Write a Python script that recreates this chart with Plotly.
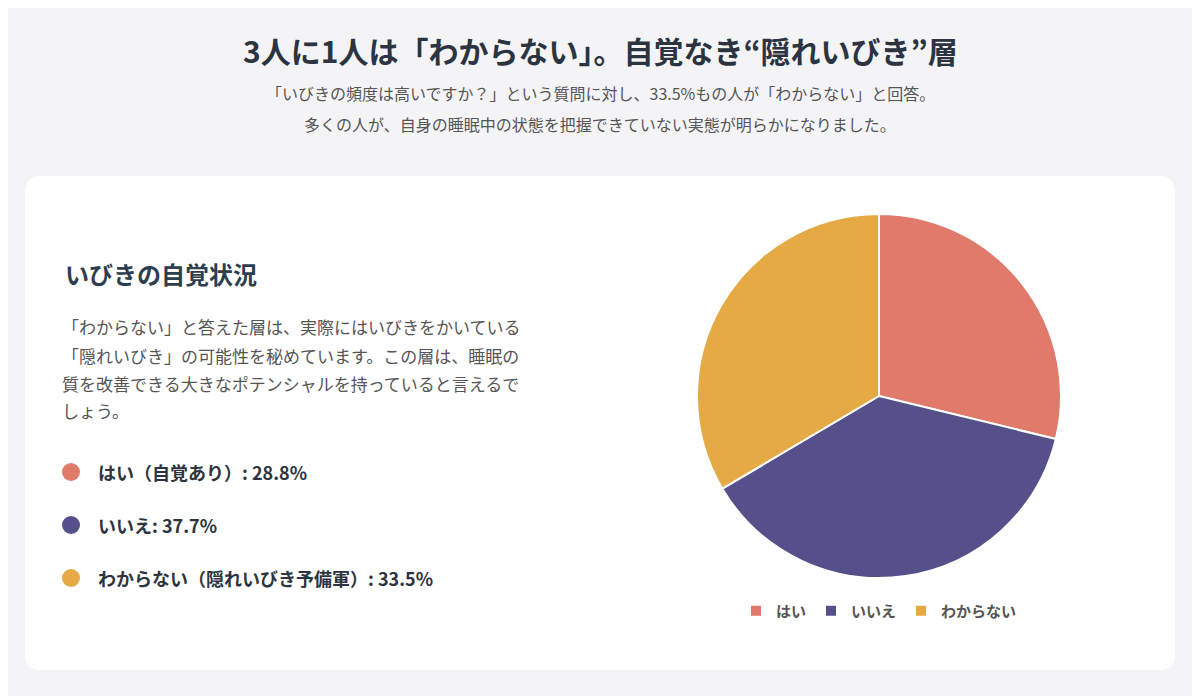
import plotly.graph_objects as go

labels = ['はい', 'いいえ', 'わからない']
values = [28.8, 37.7, 33.5]
colors = ['#E07A6A', '#56508A', '#E5AA45']
bullet_texts = ['はい（自覚あり）: 28.8%', 'いいえ: 37.7%', 'わからない（隠れいびき予備軍）: 33.5%']

W, H = 1200, 696
OFF = 8  # page body margin
FONT = 'Noto Sans CJK JP'

def py(y):
    return 1 - (y - OFF) / H

def px(x):
    return (x - OFF) / W

fig = go.Figure(go.Pie(
    labels=labels, values=values, sort=False, direction='clockwise', rotation=0,
    marker=dict(colors=colors, line=dict(color='white', width=2)),
    textinfo='none', hoverinfo='label+percent',
    domain=dict(x=[px(697), px(1061)], y=[py(579), py(213)]),
))

# card with rounded corners
x0, x1, y0, y1 = px(25), px(1175), py(670), py(176)
rx, ry = 16 / W, 16 / H
path = (f'M {x0+rx},{y0} L {x1-rx},{y0} Q {x1},{y0} {x1},{y0+ry} L {x1},{y1-ry} '
        f'Q {x1},{y1} {x1-rx},{y1} L {x0+rx},{y1} Q {x0},{y1} {x0},{y1-ry} '
        f'L {x0},{y0+ry} Q {x0},{y0} {x0+rx},{y0} Z')
shapes = [dict(type='path', path=path, xref='paper', yref='paper',
               fillcolor='white', line=dict(width=0), layer='below')]

ann = [
    dict(x=px(600), y=py(50), text='<b>3人に1人は「わからない」。自覚なき“隠れいびき”層</b>',
         font=dict(size=30, color='#2b3440')),
    dict(x=px(600), y=py(93), text='「いびきの頻度は高いですか？」という質問に対し、33.5%もの人が「わからない」と回答。',
         font=dict(size=16, color='#555')),
    dict(x=px(600), y=py(124), text='多くの人が、自身の睡眠中の状態を把握できていない実態が明らかになりました。',
         font=dict(size=16, color='#555')),
    dict(x=px(63), y=py(273), xanchor='left', text='<b>いびきの自覚状況</b>',
         font=dict(size=24, color='#2c3e50')),
]
para = ['「わからない」と答えた層は、実際にはいびきをかいている',
        '「隠れいびき」の可能性を秘めています。この層は、睡眠の',
        '質を改善できる大きなポテンシャルを持っていると言えるで',
        'しょう。']
for i, t in enumerate(para):
    ann.append(dict(x=px(60), y=py(327 + i * 28), xanchor='left', text=t,
                    font=dict(size=17, color='#555')))
for i, (t, c) in enumerate(zip(bullet_texts, colors)):
    yy = 472 + i * 53
    shapes.append(dict(type='circle', xref='paper', yref='paper',
                       x0=px(62), x1=px(80), y0=py(yy + 9), y1=py(yy - 9),
                       fillcolor=c, line=dict(width=0)))
    ann.append(dict(x=px(96), y=py(yy), xanchor='left', text=f'<b>{t}</b>',
                    font=dict(size=18, color='#2b3440')))
for a in ann:
    a.update(xref='paper', yref='paper', showarrow=False, yanchor='middle')
    a.setdefault('xanchor', 'center')

fig.update_layout(
    width=W, height=H, margin=dict(l=0, r=0, t=0, b=0),
    paper_bgcolor='#F4F4F7', plot_bgcolor='#F4F4F7',
    font=dict(family=FONT),
    shapes=shapes, annotations=ann,
    legend=dict(orientation='h', x=px(879), xanchor='center', y=py(611), yanchor='middle',
                bgcolor='rgba(0,0,0,0)', font=dict(size=15, color='#555', weight='bold')),
)

fig.write_html('out.html')
